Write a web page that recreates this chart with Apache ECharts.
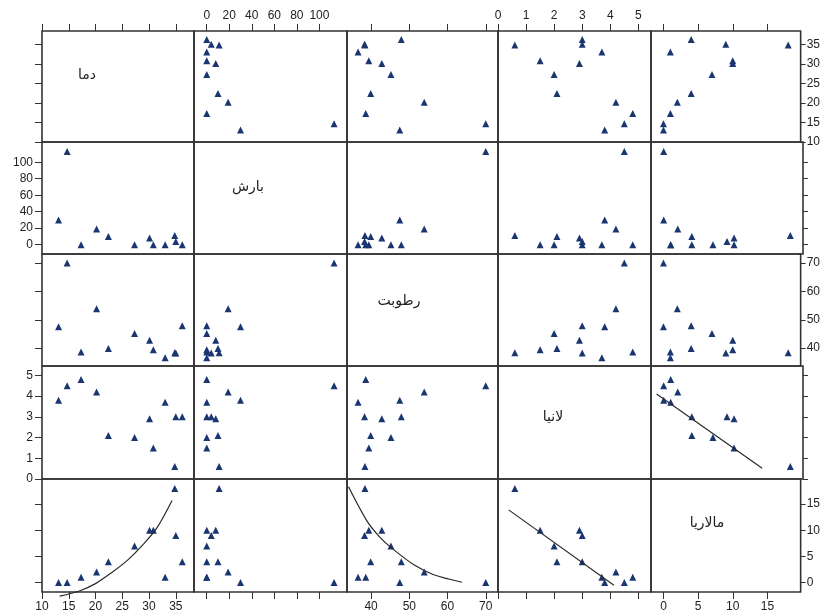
<!DOCTYPE html>
<html><head><meta charset="utf-8">
<script src="https://cdn.jsdelivr.net/npm/echarts@6/dist/echarts.min.js"></script>
<style>html,body{margin:0;padding:0;background:#fff}#c{width:823px;height:613px}</style>
</head><body><div id="c"></div>
<script>
// Variable names (diagonal labels)
const varNames = ['دما', 'بارش', 'رطوبت', 'لانیا', 'مالاریا'];
// Observations (12)
const temperature = [36.2, 35.0, 34.8, 33.0, 30.8, 30.1, 27.3, 22.4, 20.2, 17.3, 14.7, 13.1];
const rainfall    = [0, 4, 11, 0, 0, 8, 0, 10, 19, 0, 113, 30];
const humidity    = [47.9, 38.3, 38.4, 36.6, 39.4, 42.8, 45.2, 39.9, 53.9, 38.6, 70, 47.5];
const laNina      = [3.0, 3.0, 0.6, 3.7, 1.5, 2.9, 2.0, 2.1, 4.2, 4.8, 4.5, 3.8];
const malaria     = [4, 9, 18, 1, 10, 10, 7, 4, 2, 1, 0, 0];
// Axis ranges and tick values
const tempRange = [10, 38.4],     tempTicks = [10, 15, 20, 25, 30, 35];
const rainRange = [-11.3, 124.5], rainTicks = [0, 20, 40, 60, 80, 100];
const humRange  = [33.7, 73.2],   humTicks = [40, 50, 60, 70];
const ninaRange = [0, 5.45],      ninaTicks = [0, 1, 2, 3, 4, 5];
const malRange  = [-1.8, 19.8],   malTicks = [0, 5, 10, 15];
// Fitted curves ([x, y] in data units)
const fitTempMalaria = [[13.3, -2.6], [17, -1.6], [20, -0.2], [23, 1.9], [26, 4.3], [29, 7.4], [31.5, 10.5], [34.3, 15.7]];
const fitHumMalaria  = [[34.1, 18.3], [38.9, 11.8], [42.4, 8.6], [45.9, 6.3], [51.2, 3.4], [56.4, 1.5], [63.8, 0.06]];
const fitMalNina     = [[-1.0, 4.1], [14.0, 0.52]];
const fitNinaMal     = [[0.38, 13.9], [4.13, -0.5]];

const vars = [temperature, rainfall, humidity, laNina, malaria];
const ranges = [tempRange, rainRange, humRange, ninaRange, malRange];
const ticks = [tempTicks, rainTicks, humTicks, ninaTicks, malTicks];

// layout (panel boundaries in pixels)
const colEdges = [42, 194, 347, 498, 651, 803];
const rowEdges = [31, 142, 254, 366, 479, 592];
const diagLabelPos = [[87, 75], [248, 187], [399, 301], [553, 417], [707, 523]];
const markColor = '#1a3670', frameColor = '#333';
const labelFont = {fontSize: 12, color: '#222', fontFamily: 'Liberation Sans, Arial, sans-serif'};

const grids = [], xAxes = [], yAxes = [], series = [];
for (let r = 0; r < 5; r++) {
  for (let c = 0; c < 5; c++) {
    const idx = r * 5 + c;
    grids.push({left: colEdges[c], top: rowEdges[r], width: colEdges[c + 1] - colEdges[c],
      height: rowEdges[r + 1] - rowEdges[r], show: true,
      borderColor: frameColor, borderWidth: 1.6, backgroundColor: 'transparent'});
    const xTick = (r === 0 || r === 4);
    const xLab = (r === 0 && c % 2 === 1) || (r === 4 && c % 2 === 0);
    xAxes.push({gridIndex: idx, type: 'value', min: ranges[c][0], max: ranges[c][1],
      position: r === 0 ? 'top' : 'bottom', splitLine: {show: false},
      axisLine: {show: false, onZero: false},
      axisTick: {show: xTick, customValues: ticks[c], length: 7, lineStyle: {color: frameColor, width: 1}},
      axisLabel: Object.assign({show: xLab, customValues: ticks[c], margin: 9,
        showMinLabel: true, showMaxLabel: true}, labelFont)});
    const yTick = (c === 0 || c === 4);
    const yLab = (c === 0 && r % 2 === 1) || (c === 4 && r % 2 === 0);
    yAxes.push({gridIndex: idx, type: 'value', min: ranges[r][0], max: ranges[r][1],
      position: c === 0 ? 'left' : 'right', splitLine: {show: false},
      axisLine: {show: false, onZero: false},
      axisTick: {show: yTick, customValues: ticks[r], length: c === 0 ? 7 : 5, lineStyle: {color: frameColor, width: 1}},
      axisLabel: Object.assign({show: yLab, customValues: ticks[r], margin: c === 0 ? 9 : 6,
        showMinLabel: true, showMaxLabel: true}, labelFont)});
    if (r !== c) {
      series.push({type: 'scatter', xAxisIndex: idx, yAxisIndex: idx, symbol: 'triangle', symbolSize: 7,
        itemStyle: {color: markColor, opacity: 1}, data: vars[c].map((v, i) => [v, vars[r][i]])});
    }
  }
}
function fitLine(r, c, data, smooth) {
  const idx = r * 5 + c;
  series.push({type: 'line', xAxisIndex: idx, yAxisIndex: idx, data: data, showSymbol: false,
    smooth: smooth ? 0.3 : false, clip: false,
    lineStyle: {color: '#2a2a2a', width: 1.2}});
}
fitLine(4, 0, fitTempMalaria, true);
fitLine(4, 2, fitHumMalaria, true);
fitLine(3, 4, fitMalNina, false);
fitLine(4, 3, fitNinaMal, false);

const graphic = varNames.map((n, i) => ({type: 'text', x: diagLabelPos[i][0], y: diagLabelPos[i][1],
  style: {text: n, fill: '#222', font: '14px "DejaVu Sans"', textAlign: 'center', textVerticalAlign: 'middle'}}));

const chart = echarts.init(document.getElementById('c'));
chart.setOption({animation: false, backgroundColor: '#fff', grid: grids, xAxis: xAxes, yAxis: yAxes,
  series: series, graphic: graphic});
</script></body></html>
